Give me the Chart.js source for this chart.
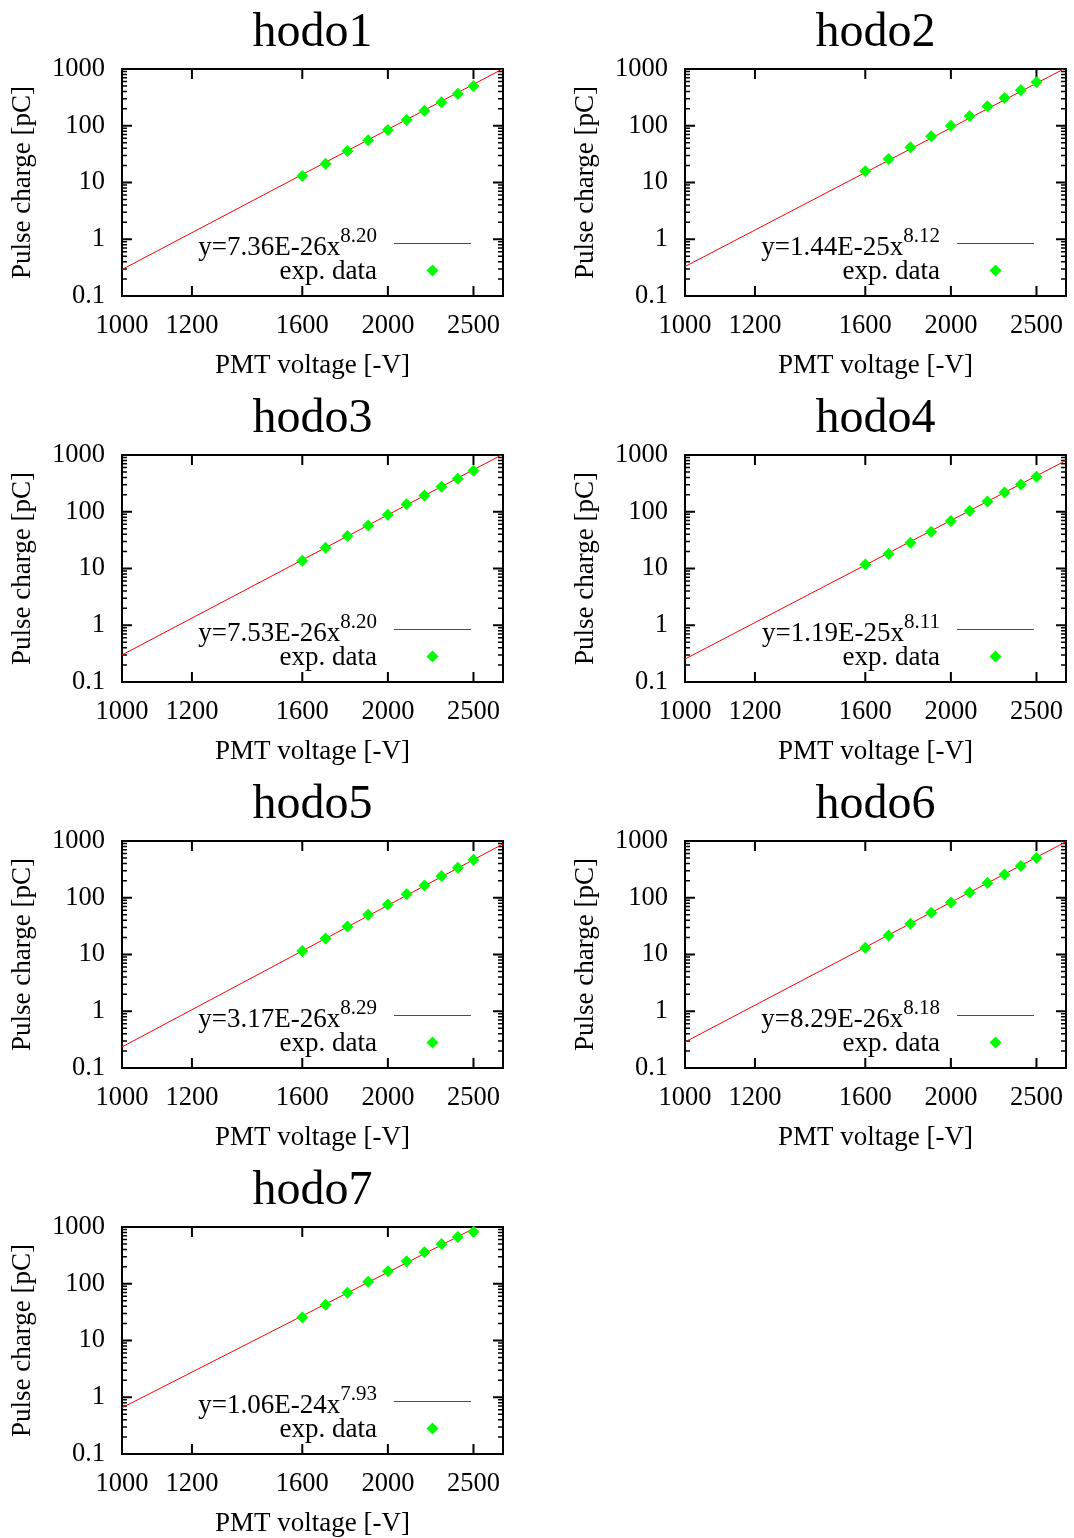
<!DOCTYPE html>
<html><head><meta charset="utf-8">
<script src="https://cdn.jsdelivr.net/npm/chart.js@4.4.1/dist/chart.umd.min.js"></script>
<style>
html,body{margin:0;padding:0;background:#fff;}
#wrap{position:relative;width:1074px;height:1538px;background:#fff;}
#wrap canvas{position:absolute;}
</style></head><body><div id="wrap"></div>
<script>
// ---- data ----
const panelNames = ['hodo1','hodo2','hodo3','hodo4','hodo5','hodo6','hodo7'];
const voltages = [1600,1700,1800,1900,2000,2100,2200,2300,2400,2500];
const hodo1 = [13.0,21.4,35.9,55.4,84.2,126,184,259,367,501];
const hodo2 = [15.8,25.9,41.7,65.2,100,148,220,308,421,583];
const hodo3 = [13.7,23.3,37.4,57.5,88.7,135,194,276,382,529];
const hodo4 = [11.8,18.0,28.5,44.5,68.7,103,152,219,303,415];
const hodo5 = [11.5,19.2,31.3,50.3,76.4,115,165,242,339,468];
const hodo6 = [13.2,21.7,34.9,54.5,82.8,124,182,258,362,502];
const hodo7 = [25.6,42.8,69.6,109,166,248,358,501,667,827];
const chargeSeries = [hodo1,hodo2,hodo3,hodo4,hodo5,hodo6,hodo7];
// fit legend text
const fitCoefText = ['7.36E-26','1.44E-25','7.53E-26','1.19E-25','3.17E-26','8.29E-26','1.06E-24'];
const fitExpText  = ['8.20','8.12','8.20','8.11','8.29','8.18','7.93'];
// fit line end points (at 1000 V and 2700 V)
const fitLineVoltages = [1000, 2700];
const fitLow  = [0.293,0.330,0.300,0.254,0.235,0.287,0.653];
const fitHigh = [1009,1050,1033,801,885,970,1722];
// axes
const xMin = 1000, xMax = 2700, yMin = 0.1, yMax = 1000;
const xTickValues = [1000,1200,1600,2000,2500];
const yTickValues = [0.1,1,10,100,1000];
const xTitle = 'PMT voltage [-V]';
const yTitle = 'Pulse charge [pC]';
const legendDataLabel = 'exp. data';

const FONT = "'Liberation Serif','Times New Roman',serif";
const MAJ = 10, MIN = 5;

const decor = {
  id: 'decor',
  beforeDatasetsDraw(chart) {
    const {ctx, chartArea:{left,right,top,bottom}, scales:{x,y}} = chart;
    ctx.save();
    ctx.strokeStyle = '#000';
    ctx.lineWidth = 2;
    ctx.beginPath();
    xTickValues.forEach(v => {
      const px = x.getPixelForValue(v);
      ctx.moveTo(px, bottom); ctx.lineTo(px, bottom - MAJ);
      ctx.moveTo(px, top); ctx.lineTo(px, top + MAJ);
    });
    yTickValues.forEach(v => {
      const py = y.getPixelForValue(v);
      ctx.moveTo(left, py); ctx.lineTo(left + MAJ, py);
      ctx.moveTo(right, py); ctx.lineTo(right - MAJ, py);
    });
    ctx.stroke();
    ctx.lineWidth = 1.5;
    ctx.beginPath();
    yTickValues.slice(0, -1).forEach(d => {
      for (let m = 2; m <= 9; m++) {
        const py = y.getPixelForValue(d * m);
        ctx.moveTo(left, py); ctx.lineTo(left + MIN, py);
        ctx.moveTo(right, py); ctx.lineTo(right - MIN, py);
      }
    });
    ctx.stroke();
    ctx.lineWidth = 2;
    ctx.strokeRect(left, top, right - left, bottom - top);
    ctx.restore();
  },
  afterDraw(chart, args, opts) {
    const {ctx, chartArea:{left,right,top,bottom}} = chart;
    const i = opts.index;
    ctx.save();
    ctx.fillStyle = '#000';
    // title
    ctx.font = '48px ' + FONT;
    ctx.textAlign = 'center';
    ctx.textBaseline = 'alphabetic';
    ctx.fillText(panelNames[i], (left + right) / 2, 46);
    // legend
    const tx = right - 126;
    ctx.textAlign = 'right';
    ctx.font = '21px ' + FONT;
    const sup = fitExpText[i];
    const supW = ctx.measureText(sup).width;
    ctx.fillText(sup, tx, bottom - 54);
    ctx.font = '27px ' + FONT;
    ctx.fillText('y=' + fitCoefText[i] + 'x', tx - supW, bottom - 41);
    ctx.fillText(legendDataLabel, tx, bottom - 17.5);
    ctx.strokeStyle = 'rgb(255,0,0)';
    ctx.lineWidth = 1.2;
    ctx.beginPath();
    ctx.moveTo(right - 109, bottom - 52.5);
    ctx.lineTo(right - 32, bottom - 52.5);
    ctx.stroke();
    const cx = right - 70.5, cy = bottom - 25.5, r = 6;
    ctx.fillStyle = '#00ff00';
    ctx.beginPath();
    ctx.moveTo(cx, cy - r); ctx.lineTo(cx + r, cy); ctx.lineTo(cx, cy + r); ctx.lineTo(cx - r, cy);
    ctx.closePath(); ctx.fill();
    ctx.restore();
  }
};

const wrap = document.getElementById('wrap');
panelNames.forEach((name, p) => {
  const col = p % 2, row = Math.floor(p / 2);
  const cv = document.createElement('canvas');
  cv.width = 537; cv.height = 386;
  cv.style.left = (col * 563) + 'px';
  cv.style.top = (row * 386) + 'px';
  cv.style.width = '537px'; cv.style.height = '386px';
  wrap.appendChild(cv);
  const vals = chargeSeries[p];
  new Chart(cv.getContext('2d'), {
    type: 'scatter',
    data: {
      datasets: [
        {
          label: legendDataLabel,
          data: voltages.map((v, k) => ({x: v, y: vals[k]})),
          showLine: false,
          pointStyle: 'rectRot',
          pointRadius: 6,
          pointHoverRadius: 6,
          backgroundColor: '#00ff00',
          borderColor: '#00ff00',
          borderWidth: 0,
          clip: false
        },
        {
          label: 'fit',
          data: fitLineVoltages.map((v, k) => ({x: v, y: k === 0 ? fitLow[p] : fitHigh[p]})),
          showLine: true,
          borderColor: '#ff0000',
          borderWidth: 1,
          pointRadius: 0,
          pointHoverRadius: 0
        }
      ]
    },
    options: {
      responsive: false,
      animation: false,
      devicePixelRatio: 1,
      events: [],
      layout: {padding: {top: 69, right: 34, left: 0, bottom: 0}},
      plugins: {
        legend: {display: false},
        tooltip: {enabled: false},
        title: {display: false},
        decor: {index: p}
      },
      scales: {
        x: {
          type: 'logarithmic', min: xMin, max: xMax,
          afterFit(s) { s.height = 90; },
          afterBuildTicks(s) { s.ticks = xTickValues.map(v => ({value: v})); },
          grid: {display: false, drawTicks: false},
          border: {display: false},
          ticks: {autoSkip: false, maxRotation: 0, minRotation: 0, padding: 14, color: '#000',
                  font: {family: FONT, size: 26.5}, callback: v => String(v)},
          title: {display: true, text: xTitle, color: '#000', font: {family: FONT, size: 27},
                  padding: {top: 0, bottom: 4}}
        },
        y: {
          type: 'logarithmic', min: yMin, max: yMax,
          afterFit(s) { s.width = 122; },
          afterBuildTicks(s) { s.ticks = yTickValues.map(v => ({value: v})); },
          grid: {display: false, drawTicks: false},
          border: {display: false},
          ticks: {autoSkip: false, padding: 17, color: '#000',
                  font: {family: FONT, size: 26.5}, callback: v => String(v)},
          title: {display: true, text: yTitle, color: '#000', font: {family: FONT, size: 27},
                  padding: {top: 7, bottom: 0}}
        }
      }
    },
    plugins: [decor]
  });
});
</script>
</body></html>
